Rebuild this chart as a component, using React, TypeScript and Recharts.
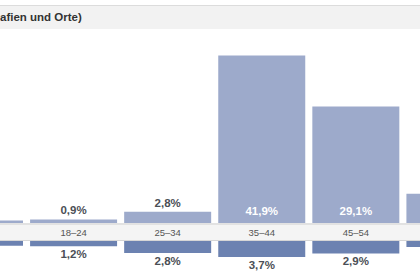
import React from 'react';
import { BarChart, Bar, XAxis, YAxis, LabelList } from 'recharts';

const categories = ['13–17', '18–24', '25–34', '35–44', '45–54', '55–64'];
const weiblich = [0.6, 0.9, 2.8, 41.9, 29.1, 7.3];
const maennlich = [1.1, 1.2, 2.8, 3.7, 2.9, 1.4];
const titleText = 'afien und Orte)';

const data = categories.map((c, i) => ({ cat: c, w: weiblich[i], m: maennlich[i] }));

const FONT = '"Liberation Sans", Arial, sans-serif';
const OFFSET_X = -68;
const VIEW_W = 420;
const fmt = (v: number) => v.toFixed(1).replace('.', ',') + '%';
const visible = (cx: number, half: number) => cx + OFFSET_X - half >= 0 && cx + OFFSET_X + half <= VIEW_W;

const UpperLabel = (props: any) => {
  const { x, y, width, height, value } = props;
  const cx = x + width / 2;
  if (!visible(cx, 18)) return null;
  const inside = height > 40;
  return (
    <text
      x={cx}
      y={inside ? y + height - 8 : y - 5}
      textAnchor="middle"
      fontFamily={FONT}
      fontSize={11.5}
      fontWeight="bold"
      fill={inside ? '#ffffff' : '#4b4f56'}
    >
      {fmt(value)}
    </text>
  );
};

const LowerLabel = (props: any) => {
  const { x, y, width, height, value } = props;
  const cx = x + width / 2;
  if (!visible(cx, 18)) return null;
  const bottom = Math.max(y, y + height);
  return (
    <text
      x={cx}
      y={bottom + 12}
      textAnchor="middle"
      fontFamily={FONT}
      fontSize={11.5}
      fontWeight="bold"
      fill="#4b4f56"
    >
      {fmt(value)}
    </text>
  );
};

const BandTick = (props: any) => {
  const { x, payload } = props;
  if (!visible(x, 16)) return null;
  return (
    <text x={x} y={13} textAnchor="middle" fontFamily={FONT} fontSize={9.5} fill="#555555">
      {payload.value}
    </text>
  );
};

export default function App() {
  return (
    <div
      style={{
        position: 'absolute',
        top: 0,
        left: 0,
        width: VIEW_W,
        height: 274,
        overflow: 'hidden',
        background: '#ffffff',
      }}
    >
      <div
        style={{
          position: 'absolute',
          top: 5,
          left: 0,
          width: 420,
          height: 24,
          boxSizing: 'border-box',
          background: '#f2f2f2',
          borderTop: '1px solid #dcdcdc',
        }}
      />
      <span
        style={{
          position: 'absolute',
          top: 11,
          left: 0,
          fontFamily: FONT,
          fontSize: 11.5,
          fontWeight: 'bold',
          color: '#333333',
          lineHeight: 'normal',
          whiteSpace: 'nowrap',
        }}
      >
        {titleText}
      </span>
      <div
        style={{
          position: 'absolute',
          top: 223,
          left: 0,
          width: 420,
          height: 18,
          boxSizing: 'border-box',
          background: '#f4f4f4',
          borderTop: '2px solid #e2e2e2',
          borderBottom: '1px solid #d6d6d6',
        }}
      />
      <div style={{ position: 'absolute', top: 0, left: OFFSET_X }}>
        <BarChart
          width={565}
          height={223}
          data={data}
          margin={{ top: 43, right: 0, bottom: 0, left: 0.5 }}
          barCategoryGap={3.5}
        >
          <XAxis dataKey="cat" hide />
          <YAxis hide domain={[0, 45]} />
          <Bar dataKey="w" fill="#9daacb" isAnimationActive={false}>
            <LabelList dataKey="w" content={UpperLabel} />
          </Bar>
        </BarChart>
      </div>
      <div style={{ position: 'absolute', top: 223, left: OFFSET_X }}>
        <BarChart
          width={565}
          height={61}
          data={data}
          margin={{ top: 0, right: 0, bottom: 0, left: 0.5 }}
          barCategoryGap={3.5}
        >
          <XAxis
            dataKey="cat"
            orientation="top"
            height={18}
            axisLine={false}
            tickLine={false}
            interval={0}
            tick={BandTick}
          />
          <YAxis hide reversed domain={[0, 10]} />
          <Bar dataKey="m" fill="#6c82b1" isAnimationActive={false}>
            <LabelList dataKey="m" content={LowerLabel} />
          </Bar>
        </BarChart>
      </div>
    </div>
  );
}
